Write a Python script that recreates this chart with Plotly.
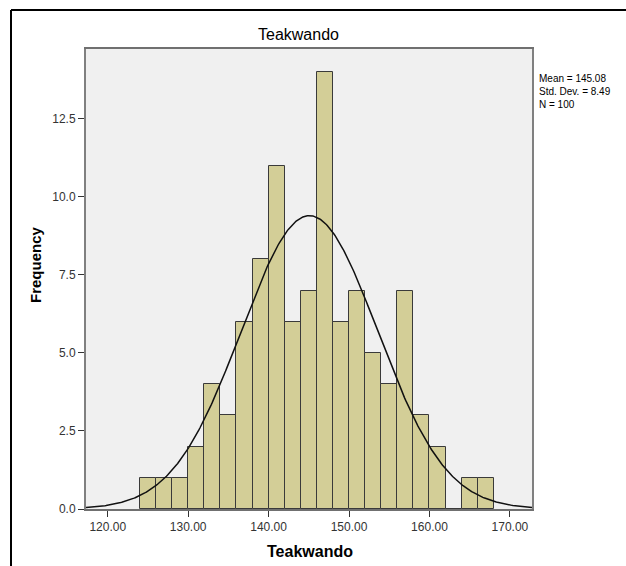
import numpy as np
import plotly.graph_objects as go

# Histogram bins (left edges, width 2) and counts
bin_left = [124, 126, 128, 130, 132, 134, 136, 138, 140, 142, 144,
            146, 148, 150, 152, 154, 156, 158, 160, 162, 164, 166]
counts = [1, 1, 1, 2, 4, 3, 6, 8, 11, 6, 7,
          14, 6, 7, 5, 4, 7, 3, 2, 0, 1, 1]
bin_width = 2

mean = 145.08
std_dev = 8.49
n_obs = 100

x_ticks = [120, 130, 140, 150, 160, 170]
y_ticks = [0, 2.5, 5.0, 7.5, 10.0, 12.5]

x_range = [117.3, 172.75]
y_range = [0, 14.74]

title_text = "Teakwando"
x_title = "Teakwando"
y_title = "Frequency"

FONT = "Liberation Sans, Arial, sans-serif"

centers = [b + bin_width / 2 for b in bin_left]

# Fitted normal curve from the statistics shown on the chart
xs = np.linspace(x_range[0], x_range[1], 400)
ys = n_obs * bin_width * np.exp(-0.5 * ((xs - mean) / std_dev) ** 2) / (std_dev * np.sqrt(2 * np.pi))

fig = go.Figure()
fig.add_trace(go.Bar(
    x=centers, y=counts, width=bin_width,
    marker=dict(color="#D3CE97", line=dict(color="#3a3a3a", width=1)),
    hoverinfo="x+y", showlegend=False,
))
fig.add_trace(go.Scatter(
    x=xs, y=ys, mode="lines",
    line=dict(color="#111111", width=1.5),
    showlegend=False, hoverinfo="skip",
))

L, R, T, B = 86, 94, 49, 57
W, H = 626, 566
pw = W - L - R
ph = H - T - B

def px_to_paper_x(px):
    return (px - L) / pw

def px_to_paper_y(py):
    return (H - B - py) / ph

fig.update_layout(
    width=W, height=H,
    margin=dict(l=L, r=R, t=T, b=B, pad=0, autoexpand=False),
    paper_bgcolor="white",
    plot_bgcolor="#F0F0F0",
    bargap=0,
    font=dict(family=FONT, size=12, color="#222222"),
    xaxis=dict(
        range=x_range, tickvals=x_ticks, tickformat=".2f",
        ticks="outside", ticklen=6, tickcolor="#333333", tickwidth=1,
        showgrid=False, zeroline=False, automargin=False,
        showline=True, linecolor="#707070", linewidth=2, mirror=True,
        tickfont=dict(family=FONT, size=12, color="#333333"),
    ),
    yaxis=dict(
        range=y_range, tickvals=y_ticks, tickformat=".1f",
        ticks="outside", ticklen=6, tickcolor="#333333", tickwidth=1,
        showgrid=False, zeroline=False, automargin=False,
        showline=True, linecolor="#808080", linewidth=2, mirror=True,
        tickfont=dict(family=FONT, size=12, color="#333333"),
    ),
    shapes=[
        dict(type="line", xref="paper", yref="paper",
             x0=px_to_paper_x(11), x1=px_to_paper_x(11),
             y0=px_to_paper_y(10), y1=px_to_paper_y(570),
             line=dict(color="black", width=2)),
        dict(type="line", xref="paper", yref="paper",
             x0=px_to_paper_x(11), x1=px_to_paper_x(630),
             y0=px_to_paper_y(10), y1=px_to_paper_y(10),
             line=dict(color="black", width=2)),
    ],
    annotations=[
        dict(text=title_text, xref="paper", yref="paper",
             x=px_to_paper_x(298), y=px_to_paper_y(34),
             xanchor="center", yanchor="middle", showarrow=False,
             font=dict(family=FONT, size=16, color="#000000")),
        dict(text=f"<b>{x_title}</b>", xref="paper", yref="paper",
             x=px_to_paper_x(310), y=px_to_paper_y(551),
             xanchor="center", yanchor="middle", showarrow=False,
             font=dict(family=FONT, size=16, color="#000000")),
        dict(text=f"<b>{y_title}</b>", xref="paper", yref="paper",
             x=px_to_paper_x(35), y=px_to_paper_y(265),
             xanchor="center", yanchor="middle", showarrow=False,
             textangle=-90,
             font=dict(family=FONT, size=15, color="#000000")),
        dict(text=f"Mean = {mean:.2f}<br>Std. Dev. = {std_dev:.2f}<br>N = {n_obs}",
             xref="paper", yref="paper",
             x=px_to_paper_x(537), y=px_to_paper_y(71),
             xanchor="left", yanchor="top", align="left", showarrow=False,
             font=dict(family=FONT, size=10, color="#000000")),
    ],
)

fig.write_html(
    "out.html",
    config={"displayModeBar": False},
    post_script="document.body.style.margin='0';document.body.style.overflow='hidden';",
)
